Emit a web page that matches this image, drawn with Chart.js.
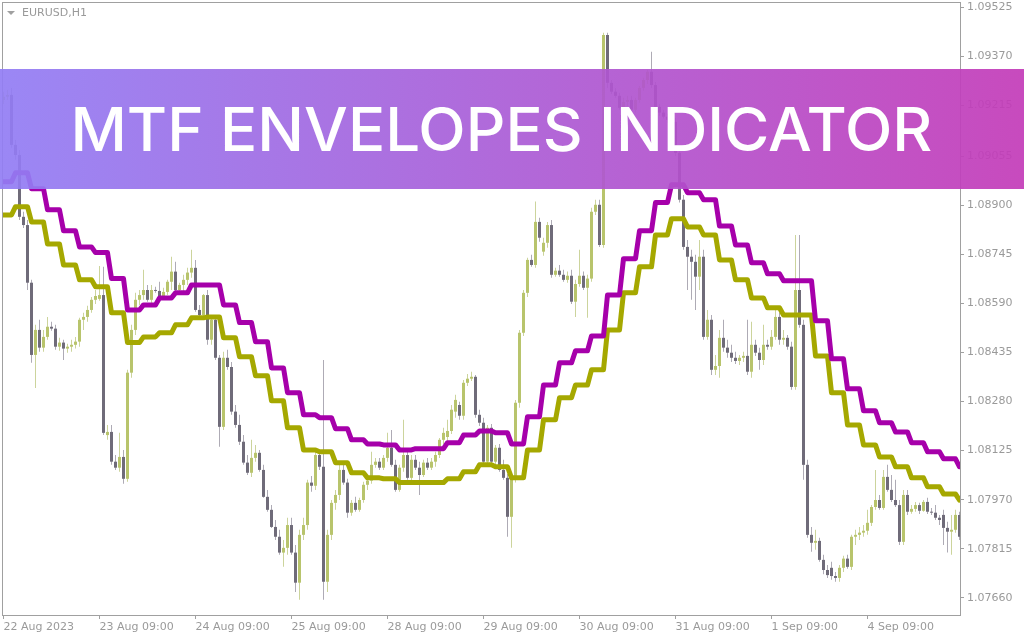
<!DOCTYPE html>
<html>
<head>
<meta charset="utf-8">
<title>MTF Envelopes Indicator</title>
<script src="https://cdn.jsdelivr.net/npm/chart.js@4.4.0/dist/chart.umd.min.js"></script>
<style>
  html, body { margin: 0; padding: 0; background: #fff; }
  #wrap { position: relative; width: 1024px; height: 640px; overflow: hidden; }
  #chart { position: absolute; left: 0; top: 0; }
  #symbol { position: absolute; left: 22px; top: 6px; font: 11px "DejaVu Sans", sans-serif; line-height: 13px; color: #9a9a9a; }
  #arrow { position: absolute; left: 7px; top: 11px; width: 0; height: 0;
           border-left: 4px solid transparent; border-right: 4px solid transparent; border-top: 4px solid #a0a0a0; }
  #banner { position: absolute; left: 0; top: 69px; width: 1024px; height: 120px;
            background: linear-gradient(to right, rgba(146,125,244,0.92), rgba(195,59,184,0.92)); }
  #title { position: absolute; left: 0; top: 30px; width: 1002px; text-align: center; white-space: nowrap;
           color: #fff; font: 500 60px Inter, sans-serif; line-height: 60px; }
  #title span { display: inline-block; transform-origin: 50% 50%; }
</style>
</head>
<body>
<div id="wrap">
  <canvas id="chart" width="1024" height="640"></canvas>
  <div id="arrow"></div>
  <div id="symbol">EURUSD,H1</div>
  <div id="banner"><div id="title"><span>MTF ENVELOPES INDICATOR</span></div></div>
</div>
<script>
// EURUSD H1, 22 Aug 09:00 .. 4 Sep, one value per hourly bar
const opens = [
  1.09232,1.09242,1.09248,1.09090,1.09058,1.08863,1.08837,1.08655,1.08427,1.08506,
  1.08450,1.08484,1.08516,1.08510,1.08453,1.08466,1.08447,1.08453,1.08459,1.08469,
  1.08538,1.08547,1.08569,1.08601,1.08604,1.08616,1.08174,1.08184,1.08090,1.08071,
  1.08105,1.08036,1.08371,1.08506,1.08601,1.08616,1.08632,1.08601,1.08632,1.08629,
  1.08613,1.08626,1.08658,1.08690,1.08632,1.08648,1.08664,1.08687,1.08702,1.08569,
  1.08553,1.08616,1.08475,1.08538,1.08418,1.08200,1.08418,1.08389,1.08248,1.08206,
  1.08153,1.08087,1.08055,1.08102,1.08118,1.08064,1.07979,1.07938,1.07884,1.07853,
  1.07803,1.07818,1.07890,1.07803,1.07708,1.07859,1.07890,1.08024,1.08014,1.08111,
  1.08074,1.07711,1.07859,1.07960,1.07985,1.08064,1.08024,1.07929,1.07960,1.07938,
  1.07969,1.08017,1.08030,1.08080,1.08090,1.08071,1.08102,1.08134,1.08080,1.08001,
  1.08071,1.08111,1.08039,1.08096,1.08071,1.08048,1.08087,1.08071,1.08090,1.08111,
  1.08159,1.08168,1.08187,1.08248,1.08269,1.08235,1.08339,1.08352,1.08358,1.08238,
  1.08213,1.08090,1.08197,1.08090,1.08134,1.08064,1.08039,1.07916,1.08033,1.08276,
  1.08497,1.08623,1.08727,1.08711,1.08847,1.08753,1.08781,1.08837,1.08680,1.08693,
  1.08680,1.08664,1.08677,1.08595,1.08651,1.08677,1.08639,1.08668,1.08879,1.08901,
  1.08774,1.09437,1.09286,1.09258,1.09245,1.09207,1.09226,1.09232,1.09201,1.09232,
  1.09270,1.09295,1.09321,1.09279,1.09210,1.09192,1.09179,1.09169,1.09163,1.09065,
  1.08917,1.08768,1.08737,1.08721,1.08674,1.08737,1.08484,1.08538,1.08380,1.08392,
  1.08481,1.08450,1.08434,1.08418,1.08408,1.08418,1.08424,1.08374,1.08459,1.08434,
  1.08411,1.08459,1.08453,1.08484,1.08547,1.08475,1.08481,1.08453,1.08326,1.08632,
  1.08522,1.08080,1.07859,1.07834,1.07840,1.07780,1.07748,1.07755,1.07729,1.07723,
  1.07755,1.07784,1.07758,1.07853,1.07859,1.07866,1.07872,1.07897,1.07947,1.07969,
  1.07944,1.08042,1.08001,1.07969,1.07953,1.07837,1.07985,1.07932,1.07941,1.07953,
  1.07935,1.07963,1.07932,1.07929,1.07913,1.07922,1.07881,1.07869,1.07875,1.07922
];
const highs = [
  1.09258,1.09264,1.09270,1.09106,1.09074,1.08879,1.08853,1.08664,1.08522,1.08538,
  1.08506,1.08547,1.08532,1.08522,1.08481,1.08475,1.08462,1.08475,1.08484,1.08544,
  1.08560,1.08582,1.08610,1.08632,1.08708,1.08705,1.08206,1.08206,1.08111,1.08181,
  1.08127,1.08380,1.08522,1.08623,1.08632,1.08696,1.08648,1.08648,1.08642,1.08658,
  1.08639,1.08664,1.08737,1.08721,1.08655,1.08680,1.08702,1.08759,1.08727,1.08585,
  1.08619,1.08632,1.08544,1.08553,1.08427,1.08437,1.08443,1.08405,1.08269,1.08238,
  1.08174,1.08111,1.08159,1.08143,1.08127,1.08080,1.08001,1.07953,1.07906,1.07875,
  1.07843,1.07913,1.07913,1.07827,1.07875,1.07913,1.08033,1.08045,1.08127,1.08127,
  1.08411,1.07875,1.07969,1.08001,1.08080,1.08090,1.08036,1.07969,1.07979,1.07976,
  1.08027,1.08036,1.08121,1.08102,1.08102,1.08111,1.08181,1.08190,1.08096,1.08080,
  1.08222,1.08127,1.08111,1.08111,1.08090,1.08096,1.08102,1.08102,1.08121,1.08165,
  1.08197,1.08222,1.08269,1.08301,1.08279,1.08348,1.08367,1.08374,1.08364,1.08254,
  1.08229,1.08206,1.08209,1.08143,1.08146,1.08096,1.08051,1.08039,1.08285,1.08506,
  1.08632,1.08734,1.08743,1.08911,1.08860,1.08797,1.08847,1.08853,1.08702,1.08711,
  1.08696,1.08690,1.08696,1.08664,1.08759,1.08690,1.08680,1.08892,1.08917,1.08917,
  1.09444,1.09444,1.09295,1.09270,1.09255,1.09239,1.09245,1.09245,1.09239,1.09276,
  1.09302,1.09327,1.09384,1.09289,1.09219,1.09201,1.09188,1.09195,1.09176,1.09074,
  1.08932,1.08790,1.08759,1.08743,1.08790,1.08759,1.08569,1.08553,1.08427,1.08506,
  1.08538,1.08475,1.08459,1.08437,1.08427,1.08437,1.08538,1.08532,1.08475,1.08450,
  1.08522,1.08475,1.08506,1.08569,1.08560,1.08506,1.08490,1.08469,1.08806,1.08806,
  1.08538,1.08096,1.07884,1.07875,1.07850,1.07796,1.07764,1.07774,1.07742,1.07764,
  1.07793,1.07796,1.07859,1.07875,1.07884,1.07890,1.07938,1.07953,1.08064,1.07985,
  1.08064,1.08080,1.08048,1.08033,1.07969,1.08001,1.08001,1.07953,1.07963,1.07960,
  1.07969,1.07976,1.07944,1.07953,1.07922,1.07938,1.07900,1.07922,1.07938,1.07932
];
const lows = [
  1.09219,1.09232,1.09081,1.09043,1.08853,1.08828,1.08632,1.08402,1.08323,1.08437,
  1.08437,1.08475,1.08503,1.08443,1.08440,1.08411,1.08434,1.08437,1.08447,1.08453,
  1.08506,1.08532,1.08560,1.08588,1.08598,1.08174,1.08159,1.08080,1.08064,1.08058,
  1.08020,1.08027,1.08355,1.08490,1.08585,1.08601,1.08595,1.08588,1.08623,1.08607,
  1.08601,1.08616,1.08632,1.08626,1.08616,1.08626,1.08648,1.08671,1.08563,1.08544,
  1.08544,1.08459,1.08459,1.08411,1.08137,1.08190,1.08380,1.08238,1.08197,1.08143,
  1.08080,1.08048,1.08042,1.08090,1.08058,1.07976,1.07932,1.07881,1.07843,1.07796,
  1.07758,1.07796,1.07796,1.07679,1.07654,1.07843,1.07875,1.07995,1.08001,1.08064,
  1.07654,1.07679,1.07843,1.07938,1.07969,1.08017,1.07913,1.07919,1.07932,1.07932,
  1.07960,1.08001,1.08020,1.08071,1.08064,1.08064,1.08090,1.08074,1.07995,1.07995,
  1.08058,1.08033,1.08027,1.08064,1.07985,1.08042,1.08064,1.08064,1.08074,1.08102,
  1.08146,1.08156,1.08177,1.08229,1.08222,1.08222,1.08329,1.08345,1.08229,1.08203,
  1.08080,1.08080,1.08080,1.08083,1.08058,1.08033,1.07853,1.07818,1.08024,1.08260,
  1.08487,1.08610,1.08705,1.08702,1.08784,1.08740,1.08765,1.08671,1.08674,1.08674,
  1.08658,1.08655,1.08588,1.08547,1.08642,1.08632,1.08544,1.08658,1.08869,1.08768,
  1.08765,1.09270,1.09251,1.09239,1.09201,1.09195,1.09213,1.09195,1.09192,1.09223,
  1.09261,1.09282,1.09270,1.09201,1.09182,1.09173,1.09160,1.09153,1.09055,1.08908,
  1.08759,1.08632,1.08601,1.08569,1.08632,1.08475,1.08475,1.08364,1.08364,1.08355,
  1.08437,1.08418,1.08405,1.08398,1.08395,1.08405,1.08364,1.08355,1.08424,1.08380,
  1.08395,1.08443,1.08443,1.08475,1.08459,1.08459,1.08443,1.08317,1.08317,1.08513,
  1.08033,1.07850,1.07806,1.07812,1.07774,1.07735,1.07723,1.07717,1.07711,1.07711,
  1.07742,1.07752,1.07748,1.07827,1.07843,1.07853,1.07859,1.07887,1.07938,1.07938,
  1.07938,1.07995,1.07963,1.07947,1.07827,1.07827,1.07922,1.07926,1.07932,1.07925,
  1.07932,1.07925,1.07922,1.07906,1.07890,1.07827,1.07803,1.07796,1.07866,1.07843
];
const closes = [
  1.09242,1.09248,1.09090,1.09058,1.08863,1.08837,1.08655,1.08427,1.08506,1.08450,
  1.08484,1.08516,1.08510,1.08453,1.08466,1.08447,1.08453,1.08459,1.08469,1.08538,
  1.08547,1.08569,1.08601,1.08613,1.08616,1.08181,1.08184,1.08090,1.08071,1.08105,
  1.08036,1.08371,1.08506,1.08601,1.08616,1.08632,1.08601,1.08632,1.08629,1.08613,
  1.08626,1.08658,1.08690,1.08632,1.08648,1.08664,1.08687,1.08702,1.08569,1.08553,
  1.08616,1.08475,1.08538,1.08418,1.08200,1.08418,1.08389,1.08248,1.08206,1.08153,
  1.08087,1.08055,1.08102,1.08118,1.08064,1.07979,1.07938,1.07884,1.07853,1.07803,
  1.07818,1.07890,1.07803,1.07708,1.07859,1.07890,1.08024,1.08014,1.08111,1.08074,
  1.07711,1.07859,1.07960,1.07985,1.08064,1.08024,1.07929,1.07960,1.07938,1.07969,
  1.08017,1.08030,1.08080,1.08090,1.08071,1.08102,1.08134,1.08080,1.08001,1.08071,
  1.08111,1.08039,1.08096,1.08071,1.08048,1.08087,1.08071,1.08090,1.08111,1.08159,
  1.08181,1.08187,1.08254,1.08285,1.08235,1.08339,1.08352,1.08358,1.08238,1.08213,
  1.08090,1.08197,1.08090,1.08134,1.08064,1.08039,1.07916,1.08033,1.08276,1.08497,
  1.08623,1.08727,1.08711,1.08847,1.08797,1.08781,1.08837,1.08680,1.08693,1.08680,
  1.08664,1.08677,1.08595,1.08651,1.08677,1.08639,1.08668,1.08879,1.08901,1.08774,
  1.09437,1.09286,1.09258,1.09245,1.09207,1.09226,1.09232,1.09201,1.09232,1.09270,
  1.09295,1.09321,1.09279,1.09210,1.09192,1.09179,1.09169,1.09163,1.09065,1.08917,
  1.08768,1.08737,1.08721,1.08674,1.08737,1.08484,1.08538,1.08380,1.08392,1.08481,
  1.08450,1.08434,1.08418,1.08408,1.08418,1.08424,1.08374,1.08459,1.08434,1.08411,
  1.08459,1.08453,1.08484,1.08547,1.08475,1.08481,1.08453,1.08326,1.08632,1.08522,
  1.08080,1.07859,1.07834,1.07840,1.07780,1.07748,1.07732,1.07729,1.07723,1.07755,
  1.07784,1.07758,1.07853,1.07859,1.07866,1.07872,1.07897,1.07947,1.07969,1.07944,
  1.08042,1.08001,1.07969,1.07953,1.07837,1.07985,1.07932,1.07941,1.07953,1.07935,
  1.07963,1.07932,1.07929,1.07913,1.07906,1.07881,1.07869,1.07875,1.07922,1.07853
];

// MTF envelope bands, one value per H4 bar (first one is partial)
const upperH4 = [
  1.08974,1.09002,1.08952,1.08885,1.08819,1.08768,1.08750,1.08668,1.08569,1.08585,
  1.08607,1.08623,1.08648,1.08648,1.08585,1.08529,1.08469,1.08386,1.08308,1.08238,
  1.08229,1.08194,1.08159,1.08146,1.08143,1.08127,1.08131,1.08131,1.08150,1.08174,
  1.08187,1.08181,1.08146,1.08232,1.08332,1.08402,1.08440,1.08487,1.08616,1.08731,
  1.08819,1.08908,1.08964,1.08939,1.08917,1.08834,1.08774,1.08718,1.08683,1.08661,
  1.08661,1.08535,1.08415,1.08320,1.08251,1.08213,1.08184,1.08150,1.08121,1.08099,
  1.08074
];
const lowerH4 = [
  1.08869,1.08895,1.08847,1.08777,1.08711,1.08664,1.08642,1.08560,1.08466,1.08484,
  1.08497,1.08522,1.08544,1.08547,1.08481,1.08421,1.08361,1.08282,1.08197,1.08127,
  1.08121,1.08087,1.08055,1.08039,1.08036,1.08024,1.08024,1.08024,1.08036,1.08058,
  1.08080,1.08074,1.08039,1.08127,1.08222,1.08292,1.08332,1.08380,1.08506,1.08623,
  1.08705,1.08806,1.08857,1.08831,1.08806,1.08727,1.08664,1.08607,1.08576,1.08553,
  1.08553,1.08424,1.08308,1.08206,1.08143,1.08105,1.08074,1.08039,1.08011,1.07988,
  1.07969
];

const yTicks = [1.07660, 1.07815, 1.07970, 1.08125, 1.08280, 1.08435, 1.08590,
                1.08745, 1.08900, 1.09055, 1.09215, 1.09370, 1.09525];
const xTickBars = [0, 24, 48, 72, 96, 120, 144, 168, 192, 216];
const xTickLabels = ['22 Aug 2023', '23 Aug 09:00', '24 Aug 09:00', '25 Aug 09:00', '28 Aug 09:00',
                     '29 Aug 09:00', '30 Aug 09:00', '31 Aug 09:00', '1 Sep 09:00', '4 Sep 09:00'];

const axisGray = '#9a9a9a';
const bars = opens.map((_, i) => i);
const isBull = i => closes[i] >= opens[i];

// each H4 value is held across the H1 bars it covers (H4 bars start at bar 3, 7, 11 ...)
const h4Of = i => Math.floor((i + 1) / 4);

Chart.defaults.font.family = '"DejaVu Sans", sans-serif';
Chart.defaults.font.size = 11;

const frame = {
  id: 'frame',
  afterDraw(chart) {
    const { ctx, chartArea: a } = chart;
    ctx.save();
    ctx.strokeStyle = '#a0a0a0';
    ctx.lineWidth = 1;
    ctx.strokeRect(a.left - 0.5, a.top - 0.5, a.right - a.left + 1, a.bottom - a.top + 1);
    ctx.restore();
  }
};

new Chart(document.getElementById('chart'), {
  type: 'bar',
  data: {
    datasets: [
      {
        type: 'line',
        label: 'Upper',
        data: bars.map(i => ({ x: i, y: upperH4[h4Of(i)] })),
        borderColor: '#a600aa',
        borderWidth: 5,
        pointRadius: 0,
        borderJoinStyle: 'round',
        borderCapStyle: 'round',
        order: 0
      },
      {
        type: 'line',
        label: 'Lower',
        data: bars.map(i => ({ x: i, y: lowerH4[h4Of(i)] })),
        borderColor: '#a5a800',
        borderWidth: 5,
        pointRadius: 0,
        borderJoinStyle: 'round',
        borderCapStyle: 'round',
        order: 1
      },
      {
        label: 'Body',
        data: bars.map(i => ({ x: i, y: [opens[i], closes[i]] })),
        backgroundColor: bars.map(i => isBull(i) ? '#b8c46c' : '#6f6b79'),
        barThickness: 3,
        minBarLength: 1,
        grouped: false,
        borderWidth: 0,
        inflateAmount: 0,
        order: 2
      },
      {
        label: 'Wick',
        data: bars.map(i => ({ x: i, y: [lows[i], highs[i]] })),
        backgroundColor: bars.map(i => isBull(i) ? '#ccd49c' : '#aeabb5'),
        barThickness: 1,
        grouped: false,
        borderWidth: 0,
        inflateAmount: 0,
        order: 3
      }
    ]
  },
  options: {
    responsive: false,
    devicePixelRatio: 1,
    animation: false,
    events: [],
    layout: { padding: { left: 3, top: 3, right: 0, bottom: 0 } },
    plugins: { legend: { display: false }, tooltip: { enabled: false } },
    scales: {
      x: {
        type: 'linear',
        min: -0.125,
        max: 239.125,
        offset: false,
        border: { display: false },
        grid: { drawOnChartArea: false, drawTicks: true, tickLength: 4, color: '#a0a0a0', offset: false },
        ticks: {
          autoSkip: false, maxRotation: 0, minRotation: 0, align: 'start', padding: 2, color: axisGray,
          callback: v => xTickLabels[xTickBars.indexOf(v)]
        },
        afterBuildTicks: s => { s.ticks = xTickBars.map(v => ({ value: v })); },
        afterFit: s => { s.height = 25; s.paddingLeft = 0; s.paddingRight = 0; }
      },
      y: {
        position: 'right',
        min: 1.07606,
        max: 1.09538,
        border: { display: false },
        grid: { drawOnChartArea: false, drawTicks: true, tickLength: 4, color: '#a0a0a0' },
        ticks: { padding: 3, color: axisGray, callback: v => v.toFixed(5) },
        afterBuildTicks: s => { s.ticks = yTicks.map(v => ({ value: v })); },
        afterFit: s => { s.width = 64; s.paddingTop = 0; s.paddingBottom = 0; }
      }
    }
  },
  plugins: [frame]
});

// stretch the title to the banner text width of the original
const titleSpan = document.querySelector('#title span');
const w = titleSpan.getBoundingClientRect().width;
titleSpan.style.transform = 'scaleX(' + (862 / w).toFixed(3) + ')';
</script>
</body>
</html>
